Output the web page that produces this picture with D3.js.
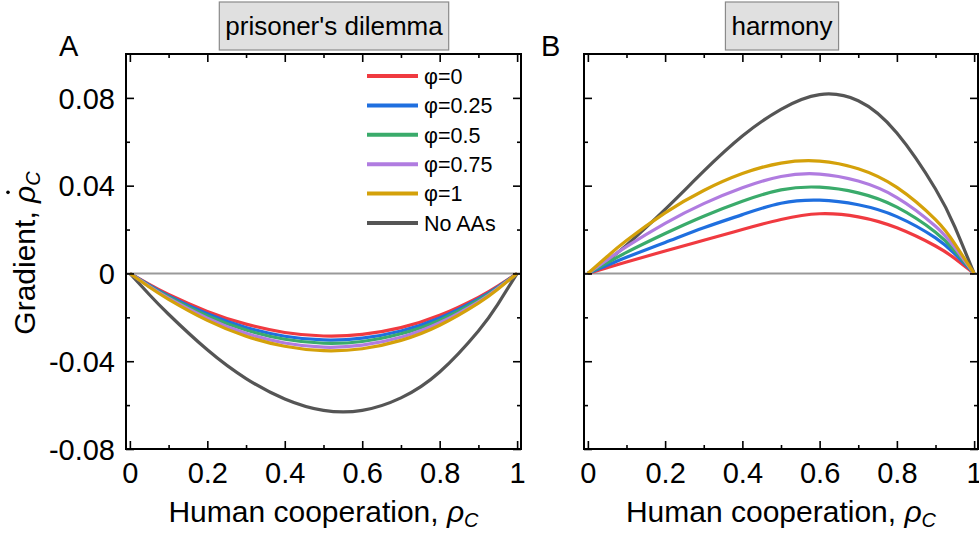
<!DOCTYPE html>
<html>
<head>
<meta charset="utf-8">
<script src="https://cdn.jsdelivr.net/npm/d3@7"></script>
<style>
  html, body { margin: 0; padding: 0; background: #fff; }
  svg { display: block; font-family: "Liberation Sans", Arial, Helvetica, sans-serif; }
</style>
</head>
<body>
<svg id="chart" width="979" height="535"></svg>
<script>
// ---------------- data ----------------
const xValues = [0, 0.05, 0.1, 0.2, 0.3, 0.4, 0.5, 0.6, 0.7, 0.8, 0.9, 0.95, 1];

const seriesNames = ["φ=0", "φ=0.25", "φ=0.5", "φ=0.75", "φ=1", "No AAs"];

// Panel A: prisoner's dilemma
const pdPhi0   = [0, -0.0050, -0.0096, -0.0173, -0.0231, -0.0269, -0.0285, -0.0278, -0.0247, -0.0191, -0.0109, -0.0058, 0];
const pdPhi025 = [0, -0.0053, -0.0102, -0.0184, -0.0246, -0.0286, -0.0303, -0.0295, -0.0262, -0.0203, -0.0116, -0.0062, 0];
const pdPhi05  = [0, -0.0056, -0.0107, -0.0193, -0.0258, -0.0300, -0.0318, -0.0310, -0.0275, -0.0213, -0.0122, -0.0065, 0];
const pdPhi075 = [0, -0.0059, -0.0113, -0.0204, -0.0273, -0.0317, -0.0336, -0.0327, -0.0291, -0.0225, -0.0129, -0.0068, 0];
const pdPhi1   = [0, -0.0062, -0.0118, -0.0214, -0.0286, -0.0332, -0.0352, -0.0343, -0.0305, -0.0236, -0.0135, -0.0072, 0];
const pdNoAA   = [0, -0.0096, -0.0186, -0.0348, -0.0479, -0.0572, -0.0624, -0.0624, -0.0567, -0.0449, -0.0262, -0.0141, 0];

// Panel B: harmony
const hPhi0   = [0, 0.0026, 0.0052, 0.0102, 0.0151, 0.0200, 0.0246, 0.0272, 0.0258, 0.0208, 0.0125, 0.0068, 0];
const hPhi025 = [0, 0.0037, 0.0074, 0.0141, 0.0208, 0.0268, 0.0320, 0.0334, 0.0313, 0.0259, 0.0162, 0.0089, 0];
const hPhi05  = [0, 0.0048, 0.0096, 0.0182, 0.0261, 0.0329, 0.0381, 0.0393, 0.0367, 0.0302, 0.0188, 0.0103, 0];
const hPhi075 = [0, 0.0062, 0.0122, 0.0228, 0.0318, 0.0390, 0.0442, 0.0453, 0.0421, 0.0346, 0.0215, 0.0118, 0];
const hPhi1   = [0, 0.0077, 0.0150, 0.0276, 0.0378, 0.0455, 0.0503, 0.0512, 0.0477, 0.0392, 0.0245, 0.0135, 0];
const hNoAA   = [0, 0.0059, 0.0129, 0.0292, 0.0466, 0.0626, 0.0748, 0.0815, 0.0787, 0.0640, 0.0385, 0.0212, 0];

const xMajorTicks = [0, 0.2, 0.4, 0.6, 0.8, 1];
const xTickLabels = ["0", "0.2", "0.4", "0.6", "0.8", "1"];
const xMinorTicks = [0.1, 0.3, 0.5, 0.7, 0.9];
const yMajorTicks = [-0.08, -0.04, 0, 0.04, 0.08];
const yTickLabels = ["-0.08", "-0.04", "0", "0.04", "0.08"];
const yMinorTicks = [-0.06, -0.02, 0.02, 0.06];

const panelTitles = ["prisoner's dilemma", "harmony"];
const panelLetters = ["A", "B"];

(function () {
// ---------------- style / layout ----------------
const colors = ["#f03a40", "#1f6fdf", "#3aab6b", "#b07ce0", "#d4a10a", "#555555"];
const panels = [
  { left: 126, right: 521, titleCx: 334, letterX: 59, data: [pdPhi0, pdPhi025, pdPhi05, pdPhi075, pdPhi1, pdNoAA], yLabels: true, legend: true },
  { left: 584, right: 978, titleCx: 782, letterX: 541, data: [hPhi0, hPhi025, hPhi05, hPhi075, hPhi1, hNoAA], yLabels: false, legend: false }
];
const plotTop = 54, plotBottom = 449;
const svg = d3.select("#chart");

const y = d3.scaleLinear().domain([-0.08, 0.1]).range([plotBottom, plotTop]);

panels.forEach((p, pi) => {
  const x = d3.scaleLinear().domain([-0.01, 1.01]).range([p.left, p.right]);
  const g = svg.append("g");

  // zero line
  g.append("line")
    .attr("x1", p.left).attr("x2", p.right)
    .attr("y1", y(0)).attr("y2", y(0))
    .attr("stroke", "#9a9a9a").attr("stroke-width", 2);

  // curves
  const line = d3.line()
    .x((d, i) => x(xValues[i]))
    .y(d => y(d))
    .curve(d3.curveNatural);
  const order = [5, 0, 1, 2, 3, 4];
  order.forEach(si => {
    g.append("path")
      .datum(p.data[si])
      .attr("d", line)
      .attr("fill", "none")
      .attr("stroke", colors[si])
      .attr("stroke-width", 3.2)
      .attr("stroke-linejoin", "round");
  });

  // axes with inward ticks
  const mk = (axis, vals, len, fmt) => axis.tickValues(vals).tickSizeInner(-len).tickSizeOuter(0).tickFormat(fmt);
  const axes = [
    [mk(d3.axisBottom(x), xMajorTicks, 8, (d, i) => xTickLabels[i]), `translate(0,${plotBottom})`, "xlab"],
    [mk(d3.axisBottom(x), xMinorTicks, 4, ""), `translate(0,${plotBottom})`, ""],
    [mk(d3.axisTop(x), xMajorTicks, 8, ""), `translate(0,${plotTop})`, ""],
    [mk(d3.axisTop(x), xMinorTicks, 4, ""), `translate(0,${plotTop})`, ""],
    [mk(d3.axisLeft(y), yMajorTicks, 8, (d, i) => p.yLabels ? yTickLabels[i] : ""), `translate(${p.left},0)`, "ylab"],
    [mk(d3.axisLeft(y), yMinorTicks, 4, ""), `translate(${p.left},0)`, ""],
    [mk(d3.axisRight(y), yMajorTicks, 8, ""), `translate(${p.right},0)`, ""],
    [mk(d3.axisRight(y), yMinorTicks, 4, ""), `translate(${p.right},0)`, ""]
  ];
  axes.forEach(([ax, tr, kind]) => {
    const a = g.append("g").attr("transform", tr).call(ax);
    a.select(".domain").remove();
    a.selectAll(".tick line").attr("stroke", "#000").attr("stroke-width", 1.6);
    const txt = a.selectAll(".tick text").attr("font-size", 29).attr("fill", "#000")
      .attr("font-family", "'Liberation Sans', Arial, sans-serif");
    if (kind === "xlab") txt.attr("y", 34).attr("dy", 0);
    if (kind === "ylab") txt.attr("x", -11).attr("dy", "0.35em");
  });

  // frame
  g.append("rect")
    .attr("x", p.left).attr("y", plotTop)
    .attr("width", p.right - p.left).attr("height", plotBottom - plotTop)
    .attr("fill", "none").attr("stroke", "#000").attr("stroke-width", 2);

  // x axis title
  const xt = g.append("text")
    .attr("x", (p.left + p.right) / 2).attr("y", 522)
    .attr("text-anchor", "middle").attr("font-size", 30).attr("fill", "#000");
  xt.append("tspan").text("Human cooperation, ");
  xt.append("tspan").attr("font-style", "italic").text("ρ");
  xt.append("tspan").attr("font-style", "italic").attr("font-size", 20).attr("dy", 5).text("C");

  // title box
  const box = g.append("rect")
    .attr("y", 2).attr("height", 48)
    .attr("fill", "#e0e0e0").attr("stroke", "#8a8a8a").attr("stroke-width", 1.2);
  const tt = g.append("text")
    .attr("x", p.titleCx).attr("y", 35)
    .attr("text-anchor", "middle").attr("font-size", 26).attr("fill", "#000")
    .text(panelTitles[pi]);
  const tw = tt.node().getComputedTextLength();
  box.attr("x", p.titleCx - tw / 2 - 6).attr("width", tw + 12);

  // panel letter
  g.append("text")
    .attr("x", p.letterX).attr("y", 56)
    .attr("font-size", 29).attr("fill", "#000")
    .text(panelLetters[pi]);

  // legend
  if (p.legend) {
    const lg = g.append("g");
    seriesNames.forEach((name, i) => {
      const ly = 76 + i * 29.4;
      lg.append("line")
        .attr("x1", 367).attr("x2", 418).attr("y1", ly).attr("y2", ly)
        .attr("stroke", colors[i]).attr("stroke-width", 4);
      lg.append("text")
        .attr("x", 424).attr("y", ly).attr("dy", "0.36em")
        .attr("font-size", 21.5).attr("fill", "#000")
        .text(name);
    });
  }
});

// y axis title (rotated)
const yg = svg.append("g").attr("transform", "translate(35,253) rotate(-90)");
const yt = yg.append("text").attr("x", 0).attr("y", 0)
  .attr("text-anchor", "middle").attr("font-size", 30).attr("fill", "#000");
yt.append("tspan").text("Gradient, ");
yt.append("tspan").attr("font-style", "italic").text("ρ");
yt.append("tspan").attr("font-style", "italic").attr("font-size", 20).attr("dy", 5).text("C");
const rhoIdx = "Gradient, ".length;
let cx = 60;
try {
  const ext = yt.node().getExtentOfChar(rhoIdx);
  cx = ext.x + ext.width / 2 + 2;
} catch (e) {}
yg.append("circle")
  .attr("cx", cx).attr("cy", -27)
  .attr("r", 1.8).attr("fill", "#000");
})();
</script>
</body>
</html>
